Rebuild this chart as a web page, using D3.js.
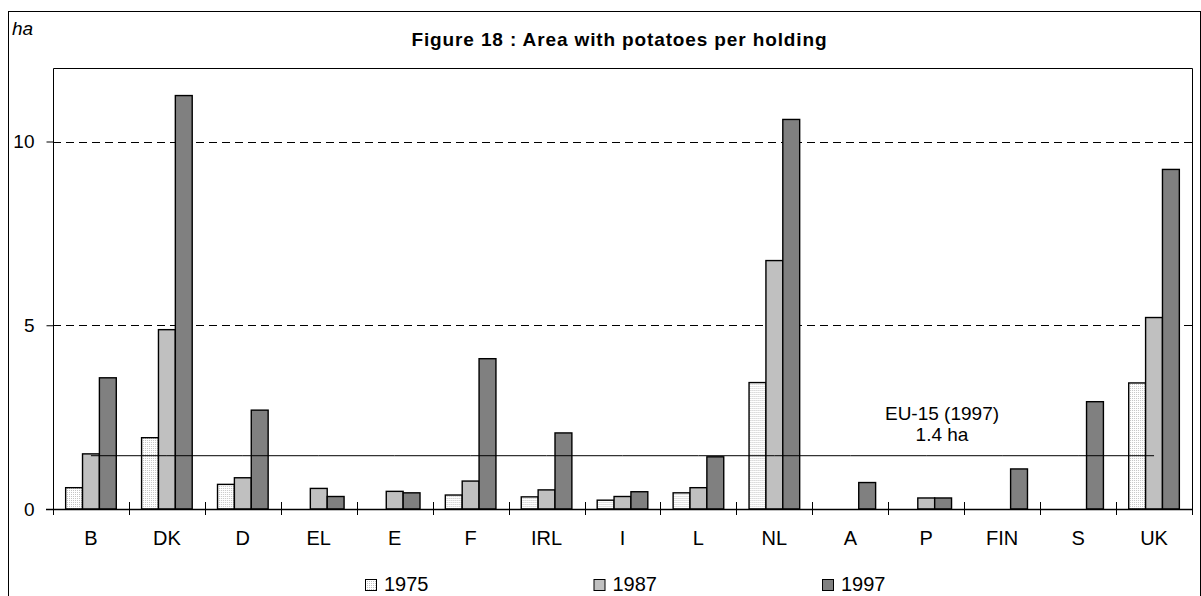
<!DOCTYPE html>
<html lang="en">
<head>
<meta charset="UTF-8">
<title>Figure 18 : Area with potatoes per holding</title>
<script src="https://d3js.org/d3.v7.min.js"></script>
<style>
    body { margin: 0; background: #fff; }
    svg { display: block; font-family: "Liberation Sans", Arial, sans-serif; }
</style>
</head>
<body>
<div id="chart"></div>
<script>
// data (ha per holding)
const countries = ["B", "DK", "D", "EL", "E", "F", "IRL", "I", "L", "NL", "A", "P", "FIN", "S", "UK"];
const years = ["1975", "1987", "1997"];
const v1975 = [0.58, 1.94, 0.67, null, null, 0.38, 0.33, 0.24, 0.44, 3.44, null, null, null, null, 3.43];
const v1987 = [1.50, 4.88, 0.85, 0.56, 0.48, 0.76, 0.52, 0.34, 0.58, 6.76, null, 0.30, null, null, 5.21];
const v1997 = [3.57, 11.25, 2.69, 0.34, 0.44, 4.09, 2.07, 0.47, 1.42, 10.60, 0.72, 0.30, 1.09, 2.92, 9.24];
const euAverage = 1.45;
const yTicks = [0, 5, 10];

const width = 1201, height = 596;
const plot = { left: 53, right: 1192, top: 68, bottom: 509 };
const fills = { "1975": "url(#dots)", "1987": "#c0c0c0", "1997": "#808080" };

const svg = d3.select("#chart").append("svg")
    .attr("width", width)
    .attr("height", height);

// stipple pattern for 1975
const pat = svg.append("defs").append("pattern")
    .attr("id", "dots")
    .attr("width", 2).attr("height", 2)
    .attr("patternUnits", "userSpaceOnUse");
pat.append("rect").attr("width", 2).attr("height", 2).attr("fill", "#fff");
pat.append("rect").attr("width", 1).attr("height", 1).attr("fill", "#c4c4c4");

// outer frame
svg.append("rect")
    .attr("x", 8.5).attr("y", 11.5)
    .attr("width", 1192).attr("height", 600)
    .attr("fill", "none").attr("stroke", "#000");

const x0 = d3.scaleBand().domain(countries).range([plot.left, plot.right]).padding(0);
const bw = x0.bandwidth();
const gap = bw * 1.5 / 4.5;
const x1 = d3.scaleBand().domain(years).range([gap / 2, bw - gap / 2]).padding(0);
const y = d3.scaleLinear().domain([0, 12]).range([plot.bottom, plot.top]);

// gridlines
svg.append("g").selectAll("line")
    .data(yTicks.filter(d => d > 0))
    .join("line")
    .attr("x1", plot.left).attr("x2", plot.right)
    .attr("y1", d => Math.round(y(d)) + 0.5).attr("y2", d => Math.round(y(d)) + 0.5)
    .attr("stroke", "#000")
    .attr("stroke-dasharray", "8,5");

// bars
const rows = countries.map((c, i) => ({ c, vals: [
    { year: "1975", v: v1975[i] },
    { year: "1987", v: v1987[i] },
    { year: "1997", v: v1997[i] }
] }));

svg.append("g").selectAll("g")
    .data(rows)
    .join("g")
    .attr("transform", d => `translate(${x0(d.c)},0)`)
    .selectAll("rect")
    .data(d => d.vals.filter(v => v.v != null))
    .join("rect")
    .attr("x", d => x1(d.year))
    .attr("y", d => y(d.v))
    .attr("width", x1.bandwidth())
    .attr("height", d => y(0) - y(d.v))
    .attr("fill", d => fills[d.year])
    .attr("stroke", "#000")
    .attr("stroke-width", 1.4);

// EU-15 average line
const euLine = d3.line()
    .x(d => x0(d) + bw / 2)
    .y(() => y(euAverage));
svg.append("path")
    .datum(countries)
    .attr("d", euLine)
    .attr("fill", "none")
    .attr("stroke", "#000")
    .attr("stroke-width", 1);

svg.append("text")
    .attr("x", 942).attr("y", 420)
    .attr("text-anchor", "middle")
    .attr("font-size", 19)
    .text("EU-15 (1997)");
svg.append("text")
    .attr("x", 942).attr("y", 441)
    .attr("text-anchor", "middle")
    .attr("font-size", 19)
    .text("1.4 ha");

// plot frame (top, right, left)
svg.append("path")
    .attr("d", `M${plot.left + 0.5},${plot.bottom}V${plot.top + 0.5}H${plot.right + 0.5}V${plot.bottom}`)
    .attr("fill", "none")
    .attr("stroke", "#000");

// y axis
const yAxis = svg.append("g")
    .attr("transform", `translate(${plot.left + 0.5},0)`)
    .call(d3.axisLeft(y).tickValues(yTicks).tickSize(7).tickPadding(12).tickFormat(d3.format("d")));
yAxis.select(".domain").remove();
yAxis.selectAll("text").attr("font-size", 19).attr("font-family", "Liberation Sans, Arial, sans-serif").attr("fill", "#000");
yAxis.selectAll("line").attr("stroke", "#000");

// x axis: baseline, boundary ticks, labels
svg.append("line")
    .attr("x1", plot.left - 7).attr("x2", plot.right + 0.5)
    .attr("y1", y(0) + 0.5).attr("y2", y(0) + 0.5)
    .attr("stroke", "#000").attr("stroke-width", 1.5);

const bounds = countries.map(c => x0(c)).concat([plot.right]);
svg.append("g").selectAll("line")
    .data(bounds)
    .join("line")
    .attr("x1", d => Math.round(d) + 0.5).attr("x2", d => Math.round(d) + 0.5)
    .attr("y1", y(0) - 7).attr("y2", y(0) + 6)
    .attr("stroke", "#000");

const xAxis = svg.append("g")
    .attr("transform", `translate(0,${plot.bottom})`)
    .call(d3.axisBottom(x0).tickSize(0).tickPadding(22));
xAxis.select(".domain").remove();
xAxis.selectAll("text").attr("font-size", 20).attr("font-family", "Liberation Sans, Arial, sans-serif").attr("fill", "#000");

// title and unit
svg.append("text")
    .attr("x", 619).attr("y", 46)
    .attr("text-anchor", "middle")
    .attr("font-size", 19)
    .attr("font-weight", "bold")
    .attr("textLength", 415)
    .attr("lengthAdjust", "spacing")
    .text("Figure 18 : Area with potatoes per holding");

svg.append("text")
    .attr("x", 12).attr("y", 35)
    .attr("font-size", 19)
    .attr("font-style", "italic")
    .text("ha");

// legend
const legendX = d3.scalePoint().domain(years).range([365, 822]);
const leg = svg.append("g").selectAll("g")
    .data(years)
    .join("g")
    .attr("transform", d => `translate(${legendX(d)},579)`);
leg.append("rect")
    .attr("x", 0.5).attr("y", 0.5)
    .attr("width", 11).attr("height", 11)
    .attr("fill", d => fills[d])
    .attr("stroke", "#000");
leg.append("text")
    .attr("x", 19).attr("y", 12)
    .attr("font-size", 20)
    .text(d => d);
</script>
</body>
</html>
